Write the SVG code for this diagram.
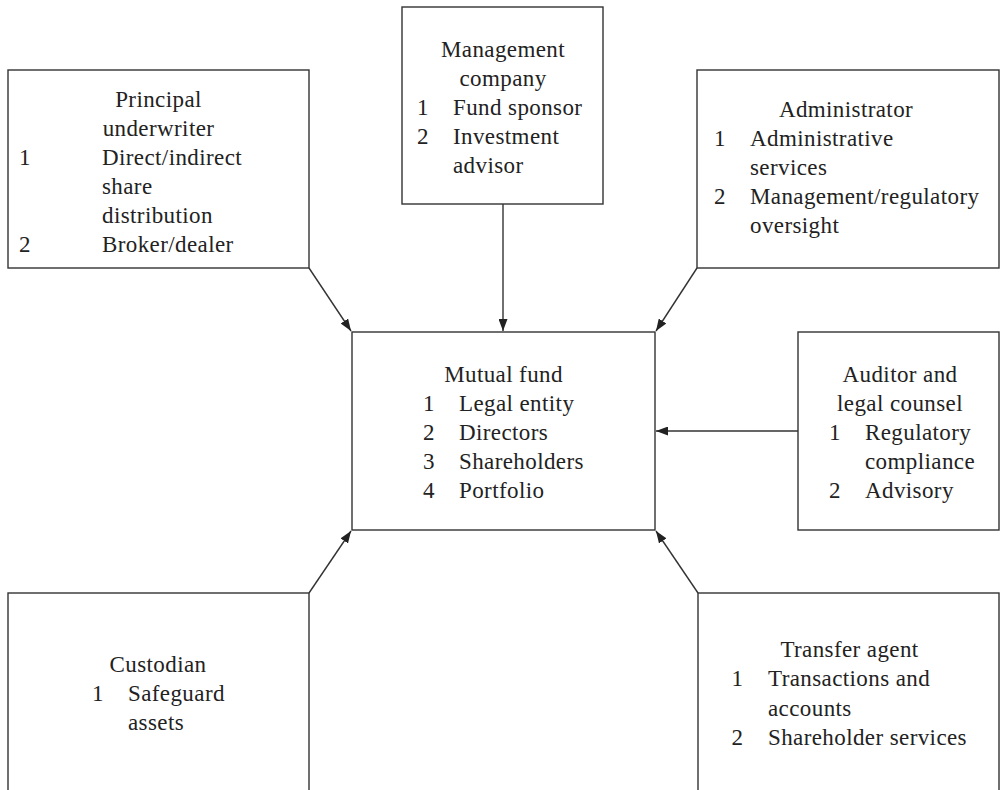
<svg xmlns="http://www.w3.org/2000/svg" width="1000" height="790" viewBox="0 0 1000 790">
<defs>
<marker id="ah" markerUnits="userSpaceOnUse" markerWidth="13" markerHeight="9" refX="12" refY="4.5" orient="auto">
<path d="M0,0 L12,4.5 L0,9 z" fill="#222"/>
</marker>
<style>
.box{fill:#fff;stroke:#333;stroke-width:1.4}
.t{font-family:'Liberation Serif','Times New Roman','DejaVu Serif',serif;font-size:23px;fill:#222;letter-spacing:0.4px}
.c{text-anchor:middle}
.n{text-anchor:middle}
.edge{stroke:#333;stroke-width:1.4;fill:none;marker-end:url(#ah)}
</style>
</defs>
<rect width="1000" height="790" fill="#fff"/>
<g id="connectors">
<line class="edge" x1="309" y1="268" x2="351" y2="331"/>
<line class="edge" x1="503" y1="204" x2="503" y2="331"/>
<line class="edge" x1="697" y1="268" x2="656" y2="331"/>
<line class="edge" x1="798" y1="431" x2="656" y2="431"/>
<line class="edge" x1="309" y1="593" x2="351" y2="531"/>
<line class="edge" x1="698" y1="593" x2="656" y2="531"/>
</g>
<g id="principal" font-family="Liberation Serif, serif">
<rect class="box" x="8" y="70" width="301" height="198"/>
<text class="t c" x="158.5" y="107">Principal</text>
<text class="t c" x="158.5" y="136">underwriter</text>
<text class="t n" x="25" y="165">1</text>
<text class="t" x="102" y="165">Direct/indirect</text>
<text class="t" x="102" y="194">share</text>
<text class="t" x="102" y="223">distribution</text>
<text class="t n" x="25" y="252">2</text>
<text class="t" x="102" y="252">Broker/dealer</text>
</g>
<g id="management" font-family="Liberation Serif, serif">
<rect class="box" x="402" y="7" width="201" height="197"/>
<text class="t c" x="503" y="57">Management</text>
<text class="t c" x="503" y="86">company</text>
<text class="t n" x="423" y="115">1</text>
<text class="t" x="453" y="115">Fund sponsor</text>
<text class="t n" x="423" y="144">2</text>
<text class="t" x="453" y="144">Investment</text>
<text class="t" x="453" y="173">advisor</text>
</g>
<g id="administrator" font-family="Liberation Serif, serif">
<rect class="box" x="697" y="70" width="302" height="198"/>
<text class="t c" x="846" y="117">Administrator</text>
<text class="t n" x="720" y="146">1</text>
<text class="t" x="750" y="146">Administrative</text>
<text class="t" x="750" y="175">services</text>
<text class="t n" x="720" y="204">2</text>
<text class="t" x="750" y="204">Management/regulatory</text>
<text class="t" x="750" y="233">oversight</text>
</g>
<g id="mutualfund" font-family="Liberation Serif, serif">
<rect class="box" x="352" y="332" width="303" height="198"/>
<text class="t c" x="503.5" y="382">Mutual fund</text>
<text class="t n" x="429" y="411">1</text>
<text class="t" x="459" y="411">Legal entity</text>
<text class="t n" x="429" y="440">2</text>
<text class="t" x="459" y="440">Directors</text>
<text class="t n" x="429" y="469">3</text>
<text class="t" x="459" y="469">Shareholders</text>
<text class="t n" x="429" y="498">4</text>
<text class="t" x="459" y="498">Portfolio</text>
</g>
<g id="auditor" font-family="Liberation Serif, serif">
<rect class="box" x="798" y="332" width="201" height="198"/>
<text class="t c" x="900" y="382">Auditor and</text>
<text class="t c" x="900" y="411">legal counsel</text>
<text class="t n" x="835" y="440">1</text>
<text class="t" x="865" y="440">Regulatory</text>
<text class="t" x="865" y="469">compliance</text>
<text class="t n" x="835" y="498">2</text>
<text class="t" x="865" y="498">Advisory</text>
</g>
<g id="custodian" font-family="Liberation Serif, serif">
<rect class="box" x="8" y="593" width="301" height="220"/>
<text class="t c" x="158" y="672">Custodian</text>
<text class="t n" x="98" y="701">1</text>
<text class="t" x="128" y="701">Safeguard</text>
<text class="t" x="128" y="730">assets</text>
</g>
<g id="transfer" font-family="Liberation Serif, serif">
<rect class="box" x="698" y="593" width="301" height="220"/>
<text class="t c" x="849.5" y="657">Transfer agent</text>
<text class="t n" x="737.5" y="686">1</text>
<text class="t" x="768" y="686">Transactions and</text>
<text class="t" x="768" y="716">accounts</text>
<text class="t n" x="737.5" y="745">2</text>
<text class="t" x="768" y="745">Shareholder services</text>
</g>
</svg>
